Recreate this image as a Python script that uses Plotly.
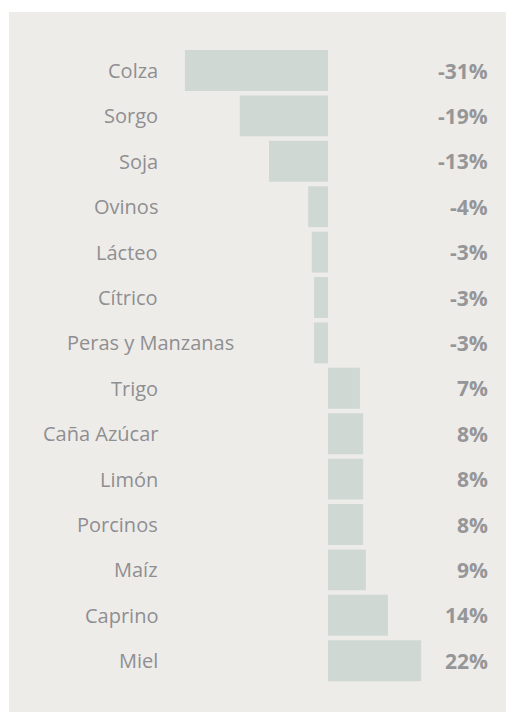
import plotly.graph_objects as go

categories = ["Colza", "Sorgo", "Soja", "Ovinos", "Lácteo", "Cítrico", "Peras y Manzanas",
              "Trigo", "Caña Azúcar", "Limón", "Porcinos", "Maíz", "Caprino", "Miel"]
bar_values = [-31.8, -19.6, -13.1, -4.4, -3.6, -3.1, -3.1,
              7.1, 7.8, 7.8, 7.8, 8.4, 13.3, 20.7]
value_labels = ["-31%", "-19%", "-13%", "-4%", "-3%", "-3%", "-3%",
                "7%", "8%", "8%", "8%", "9%", "14%", "22%"]

W, H = 506, 713
L, R, T, B = 9, 0, 12, 1
zero_px, scale = 328.0, 4.5
x0 = (L - zero_px) / scale
x1 = (W - R - zero_px) / scale
row0, pitch = 70.5, 45.4
y_top = (T - row0) / pitch
y_bot = (H - B - row0) / pitch

def px_to_x(px):
    return (px - zero_px) / scale

fig = go.Figure()
fig.add_trace(go.Bar(
    x=bar_values, y=list(range(len(categories))), orientation="h",
    marker=dict(color="#cfd8d3", line=dict(width=0)),
    width=0.9, hoverinfo="skip", showlegend=False,
))

annotations = []
for i, (cat, lab) in enumerate(zip(categories, value_labels)):
    cx = px_to_x(236) if cat == "Peras y Manzanas" else px_to_x(160)
    annotations.append(dict(x=cx, y=i, xref="x", yref="y", text=cat, showarrow=False,
                            xanchor="right", yanchor="middle",
                            font=dict(family="Open Sans", size=20, color="#8e8f91")))
    annotations.append(dict(x=px_to_x(490), y=i, xref="x", yref="y", text="<b>" + lab + "</b>",
                            showarrow=False, xanchor="right", yanchor="middle",
                            font=dict(family="Open Sans", size=21, color="#959698")))

fig.update_layout(
    width=W, height=H,
    margin=dict(l=L, r=R, t=T, b=B, pad=0),
    paper_bgcolor="white", plot_bgcolor="#eeece9",
    xaxis=dict(range=[x0, x1], visible=False, showgrid=False, zeroline=False, fixedrange=True),
    yaxis=dict(range=[y_bot, y_top], visible=False, showgrid=False, zeroline=False, fixedrange=True),
    annotations=annotations,
    bargap=0.1,
)

fig.write_html(
    "out.html",
    config={"displayModeBar": False},
    post_script="document.body.style.margin='0';document.body.style.overflow='hidden';"
                "document.documentElement.style.overflow='hidden';",
)
